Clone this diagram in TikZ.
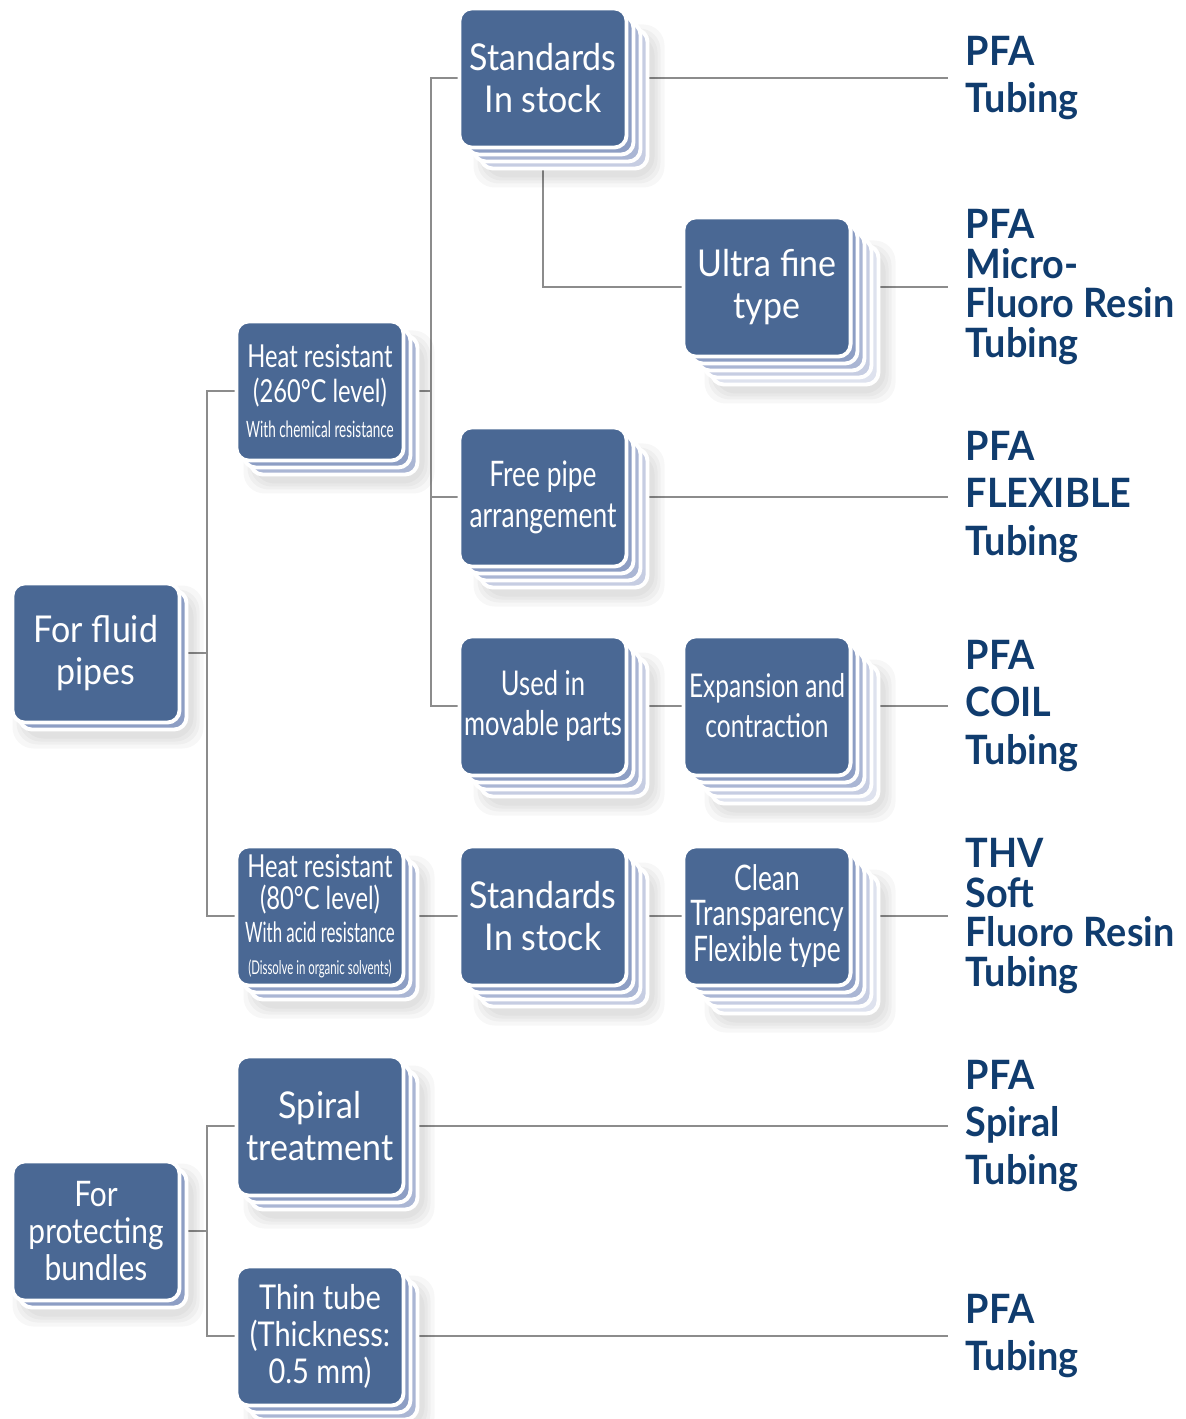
\documentclass[tikz,border=0pt]{standalone}
\usepackage{fontspec}
\setmainfont{Lato}
\newfontfamily\boxfont{Lato}[FakeStretch=0.92]
\newfontfamily\semifont{Lato}[FakeStretch=0.85]
\newfontfamily\condfont{Lato}[FakeStretch=0.75]
\newfontfamily\narrowfont{Lato}[FakeStretch=0.6]
\newfontfamily\labelfont{Lato}[FakeStretch=0.935]
\usetikzlibrary{calc}
\definecolor{cardblue}{RGB}{74,104,148}
\definecolor{layer1}{RGB}{141,158,196}
\definecolor{layer2}{RGB}{170,182,212}
\definecolor{layer3}{RGB}{198,205,226}
\definecolor{layer4}{RGB}{222,226,238}
\definecolor{tagblue}{RGB}{16,60,110}
\definecolor{linkgray}{RGB}{140,140,140}
\pgfdeclarelayer{background}
\pgfsetlayers{background,main}

% stacked card: [node options], name, x, y, sheets behind, text
\newcommand{\stackcard}[6][]{%
  \foreach \gap in {12,8,5,2}
    \fill[black, opacity=0.03, rounded corners=6pt]
      ($(#3,#4)+(7*#5+5,7*#5+7)$) ++(-83.5-\gap,-69.5-\gap) rectangle ++(167+2*\gap,139+2*\gap);
  \foreach \lay in {#5,...,1}
    \draw[sheet, fill=layer\lay] ($(#3,#4)+(7*\lay,7*\lay)$) ++(-83.5,-69.5) rectangle ++(167,139);
  \node[card,#1] (#2) at (#3,#4) {#6};
}

\begin{document}
\begin{tikzpicture}[x=0.01cm, y=-0.01cm,
    card/.style={fill=cardblue, draw=white, line width=1.1pt, rounded corners=3.5pt,
      minimum width=1.67cm, minimum height=1.39cm, inner sep=0pt, text=white, align=center,
      font=\boxfont\fontsize{10.5}{11.7}\selectfont},
    sheet/.style={draw=white, line width=1.1pt, rounded corners=3.5pt},
    link/.style={draw=linkgray, line width=0.5pt},
    tag/.style={anchor=west, align=left, inner xsep=0.17cm, inner ysep=0pt, text=tagblue,
      font=\labelfont\bfseries\fontsize{11.5}{13.4}\selectfont},
    tag4/.style={tag, font=\labelfont\bfseries\fontsize{11.5}{11.2}\selectfont}]
  \useasboundingbox (0,0) rectangle (1185,1419);

  % first column
  \stackcard{fluid}{96}{653}{1}{For fluid\\pipes}
  \stackcard[font=\semifont\fontsize{10}{10.4}\selectfont]{protect}{96}{1231}{1}{For\\protecting\\bundles}

  % second column
  \stackcard[font=\condfont\fontsize{9}{10}\selectfont]{heat260}{320}{391}{2}{Heat resistant\\(260°C level)\\{\narrowfont\fontsize{6.4}{10}\selectfont With chemical resistance}}
  \stackcard[font=\condfont\fontsize{9}{9.25}\selectfont]{heat80}{320}{916}{2}{Heat resistant\\(80°C level)\\{\narrowfont\fontsize{8}{9.25}\selectfont With acid resistance}\\{\narrowfont\fontsize{5.4}{9.25}\selectfont (Dissolve in organic solvents)}}
  \stackcard{spiral}{320}{1126}{2}{Spiral\\treatment}
  \stackcard[font=\semifont\fontsize{9.7}{10.5}\selectfont]{thin}{320}{1336}{2}{Thin tube\\(Thickness:\\0.5 mm)}

  % third column
  \stackcard{std1}{543}{78}{3}{Standards\\In stock}
  \stackcard[font=\condfont\fontsize{10}{11.7}\selectfont]{free}{543}{497}{3}{Free pipe\\arrangement}
  \stackcard[font=\condfont\fontsize{9.7}{11.4}\selectfont]{used}{543}{706}{3}{Used in\\movable parts}
  \stackcard{std2}{543}{916}{3}{Standards\\In stock}

  % fourth column
  \stackcard{ultra}{767}{287}{4}{Ultra fine\\type}
  \stackcard[font=\condfont\fontsize{9.3}{11.4}\selectfont]{expan}{767}{706}{4}{Expansion and\\contraction}
  \stackcard[font=\condfont\fontsize{10}{10.2}\selectfont]{clean}{767}{916}{4}{Clean\\Transparency\\Flexible type}

  % product names
  \node[tag] (t1) at (948,78) {PFA\\Tubing};
  \node[tag4] (t2) at (948,287) {PFA\\Micro-\\Fluoro Resin\\Tubing};
  \node[tag] (t3) at (948,497) {PFA\\FLEXIBLE\\Tubing};
  \node[tag] (t4) at (948,706) {PFA\\COIL\\Tubing};
  \node[tag4] (t5) at (948,916) {THV\\Soft\\Fluoro Resin\\Tubing};
  \node[tag] (t6) at (948,1126) {PFA\\Spiral\\Tubing};
  \node[tag] (t7) at (948,1336) {PFA\\Tubing};

  % trunks
  \coordinate (ta) at (207,0);
  \coordinate (tb) at (431,0);

  \begin{pgfonlayer}{background}
    \draw[link] (fluid) -- (fluid -| ta);
    \draw[link] (heat260) -- (heat260 -| ta) -- (heat80 -| ta) -- (heat80);
    \draw[link] (protect) -- (protect -| ta);
    \draw[link] (spiral) -- (spiral -| ta) -- (thin -| ta) -- (thin);
    \draw[link] (heat260) -- (heat260 -| tb);
    \draw[link] (std1) -- (std1 -| tb) -- (used -| tb) -- (used);
    \draw[link] (free) -- (free -| tb);
    \draw[link] (std1) |- (ultra);
    \draw[link] (std1) -- (t1.west);
    \draw[link] (ultra) -- (t2.west);
    \draw[link] (free) -- (t3.west);
    \draw[link] (used) -- (expan) -- (t4.west);
    \draw[link] (heat80) -- (std2) -- (clean) -- (t5.west);
    \draw[link] (spiral) -- (t6.west);
    \draw[link] (thin) -- (t7.west);
  \end{pgfonlayer}
\end{tikzpicture}
\end{document}
